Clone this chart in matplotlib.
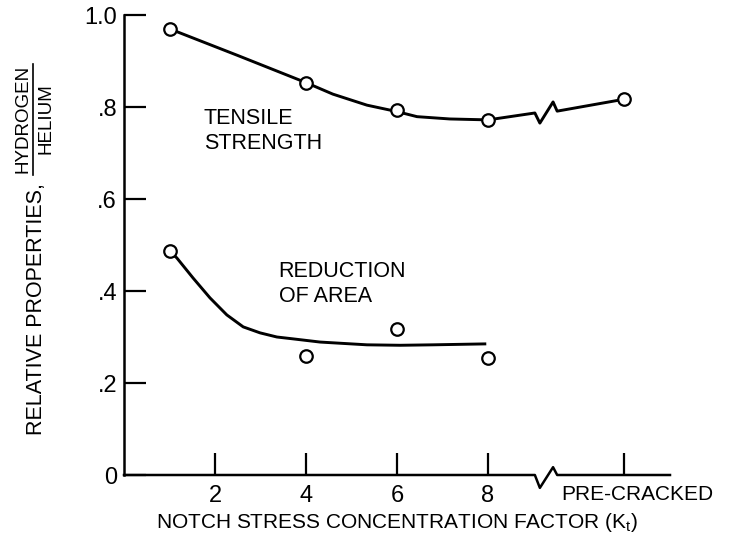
import matplotlib
matplotlib.use("Agg")
import matplotlib.pyplot as plt
import matplotlib.transforms as mtransforms

plt.rcParams['font.family'] = ['Liberation Sans', 'DejaVu Sans']

# ---- data ----
tensile_x = [1, 4, 6, 8, 11]
tensile_y = [0.970, 0.853, 0.793, 0.772, 0.817]

# faired tensile-strength curve (with broken-axis zigzag)
tensile_curve_x = [1.0, 2.5, 4.0, 4.59, 5.34, 6.0, 6.44, 7.16, 8.0, 9.03, 9.14, 9.43, 9.52, 11.0]
tensile_curve_y = [0.970, 0.912, 0.853, 0.828, 0.804, 0.790, 0.779, 0.774, 0.772, 0.787, 0.765, 0.811, 0.791, 0.817]

reduction_x = [1, 4, 6, 8]
reduction_y = [0.487, 0.259, 0.317, 0.254]

# faired reduction-of-area curve
reduction_curve_x = [1.0, 1.16, 1.52, 1.89, 2.26, 2.62, 2.99, 3.36, 3.71, 4.31, 5.34, 6.07, 6.79, 7.93]
reduction_curve_y = [0.487, 0.472, 0.428, 0.385, 0.348, 0.322, 0.309, 0.300, 0.296, 0.289, 0.283, 0.282, 0.283, 0.285]

# x axis with break
axis_x = [0.0, 9.03, 9.14, 9.43, 9.52, 12.0]
axis_y = [0.0, 0.0, -0.028, 0.017, 0.0, 0.0]

xtick_pos = [2, 4, 6, 8, 11]
xtick_labels = ['2', '4', '6', '8', 'PRE-CRACKED']
ytick_pos = [0, 0.2, 0.4, 0.6, 0.8, 1.0]
ytick_labels = ['0', '.2', '.4', '.6', '.8', '1.0']

W, H = 731, 543
fig = plt.figure(figsize=(W / 100, H / 100), dpi=100)
ax = fig.add_axes([124 / W, (H - 475) / H, (670 - 124) / W, (475 - 15) / H])

ax.set_xlim(0, 12)
ax.set_ylim(0, 1.0)

lw = 2.1
ax.plot(tensile_curve_x, tensile_curve_y, color='black', lw=lw, solid_joinstyle='round', zorder=2)
ax.plot(reduction_curve_x, reduction_curve_y, color='black', lw=lw, solid_joinstyle='round', zorder=2)
ax.plot(tensile_x, tensile_y, 'o', ms=9, mfc='white', mec='black', mew=1.6, zorder=3, clip_on=False)
ax.plot(reduction_x, reduction_y, 'o', ms=9, mfc='white', mec='black', mew=1.6, zorder=3, clip_on=False)

# spines
for s in ['top', 'right', 'bottom']:
    ax.spines[s].set_visible(False)
ax.spines['left'].set_linewidth(1.8)
ax.plot(axis_x, axis_y, color='black', lw=1.8, clip_on=False, zorder=2)

ax.set_yticks(ytick_pos)
ax.set_yticklabels(ytick_labels, fontsize=17)
ax.set_xticks(xtick_pos)
ax.set_xticklabels(xtick_labels, fontsize=17)
ax.tick_params(axis='both', direction='in', length=16, width=1.6, color='black')
ax.tick_params(axis='x', pad=7)
ax.tick_params(axis='y', pad=5)

# PRE-CRACKED label: a bit smaller and shifted right
lab = ax.get_xticklabels()[-1]
lab.set_fontsize(15)
lab.set_transform(lab.get_transform() + mtransforms.ScaledTranslation(13 / 100, 0, fig.dpi_scale_trans))

ax.set_xlabel('NOTCH STRESS CONCENTRATION FACTOR (K$_\\mathregular{t}$)', fontsize=15, labelpad=3)

# y label: RELATIVE PROPERTIES, HYDROGEN/HELIUM
fig.text(37 / W, 1 - 309 / H, 'RELATIVE PROPERTIES,', rotation=90, ha='center', va='center', fontsize=15.5)
fig.text(23 / W, 1 - 119 / H, 'HYDROGEN', rotation=90, ha='center', va='center', fontsize=13.5)
fig.text(46 / W, 1 - 119 / H, 'HELIUM', rotation=90, ha='center', va='center', fontsize=13.5)
fig.add_artist(plt.Line2D([33 / W, 33 / W], [1 - 64 / H, 1 - 175 / H], color='black', lw=1.2, transform=fig.transFigure))

# annotations
ax.text(1.75, 0.797, 'TENSILE\nSTRENGTH', fontsize=15.5, ha='left', va='top', linespacing=1.25)
ax.text(3.4, 0.465, 'REDUCTION\nOF AREA', fontsize=15.5, ha='left', va='top', linespacing=1.25)

fig.savefig('out.png', dpi=100)
